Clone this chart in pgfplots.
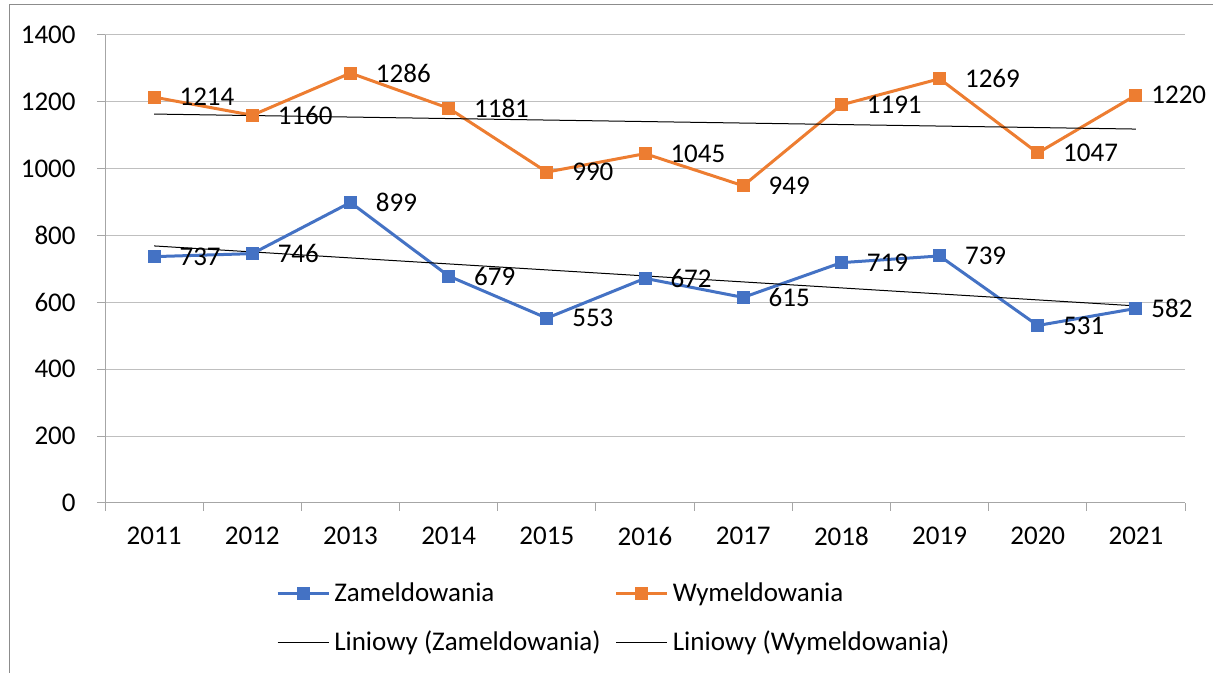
\documentclass[border=0pt]{standalone}
\usepackage{pgfplots}
\pgfplotsset{compat=1.18}
\usepackage{fontspec}
\setmainfont{Carlito}
\definecolor{zblue}{HTML}{4472C4}
\definecolor{worange}{HTML}{ED7D31}
\definecolor{gridc}{HTML}{BFBFBF}
\definecolor{axc}{HTML}{A6A6A6}
\begin{document}
\fontsize{13.5}{16}\selectfont
\begin{tikzpicture}
\useasboundingbox (0,0) rectangle (606.5pt,336.5pt);
\draw[color=black!45, line width=0.5pt] (4.5pt,0pt) -- (4.5pt,334pt) -- (606.5pt,334pt);
\begin{axis}[
  at={(52.5pt,85pt)}, anchor=south west,
  scale only axis, width=540pt, height=234pt,
  xmin=-0.5, xmax=10.5, ymin=0, ymax=1400,
  xtick={0,...,10},
  xticklabels={2011,2012,2013,2014,2015,2016,2017,2018,2019,2020,2021},
  minor xtick={-0.5,0.5,...,10.5},
  ytick={0,200,...,1400},
  axis x line*=bottom, axis y line*=left,
  axis line style={color=axc, line width=0.5pt},
  tick style={color=axc, line width=0.5pt},
  major tick length=4pt, minor tick length=4pt,
  tick align=outside,
  every major x tick/.append style={draw=none},
  ymajorgrids, major grid style={color=gridc, line width=0.5pt},
  /pgf/number format/assume math mode=true,
  /pgf/number format/1000 sep={},
  tick label style={font=\fontsize{13.5}{16}\selectfont},
  xticklabel style={yshift=-3.5pt},
  yticklabel style={xshift=-6pt},
  clip=false,
  legend columns=2,
  legend style={at={(0.158,-0.16)}, anchor=north west, draw=none, fill=none,
    font=\fontsize{13.5}{16}\selectfont, row sep=9pt,
    /tikz/every even column/.append style={column sep=5pt},
    inner sep=0pt},
  legend cell align=left,
  legend image code/.code={\draw[mark repeat=2,mark phase=2,#1] plot coordinates {(0cm,0cm) (0.45cm,0cm) (0.9cm,0cm)};},
  lab/.style={nodes near coords,
    visualization depends on={x \as \rawx},
    every node near coord/.append style={anchor=west, xshift={(\rawx>9.5) ? 3pt : 8pt}, yshift=0pt, color=black, font=\fontsize{13.5}{16}\selectfont},
    nodes near coords={\pgfmathprintnumber[assume math mode=true,1000 sep={}]{\pgfplotspointmeta}}},
]
\addplot[lab, color=zblue, line width=1.5pt, mark=square*, mark size=3pt, mark options={fill=zblue, draw=zblue, line width=0.5pt}]
  coordinates {(0,737) (1,746) (2,899) (3,679) (4,553) (5,672) (6,615) (7,719) (8,739) (9,531) (10,582)};
\addlegendentry{Zameldowania}
\addplot[lab, color=worange, line width=1.5pt, mark=square*, mark size=3pt, mark options={fill=worange, draw=worange, line width=0.5pt}]
  coordinates {(0,1214) (1,1160) (2,1286) (3,1181) (4,990) (5,1045) (6,949) (7,1191) (8,1269) (9,1047) (10,1220)};
\addlegendentry{Wymeldowania}
\addplot[color=black, line width=0.5pt]
  coordinates {(0,769.0) (10,589.6)};
\addlegendentry{Liniowy (Zameldowania)}
\addplot[color=black, line width=0.5pt]
  coordinates {(0,1163.5) (10,1118.6)};
\addlegendentry{Liniowy (Wymeldowania)}
\end{axis}
\end{tikzpicture}
\end{document}
